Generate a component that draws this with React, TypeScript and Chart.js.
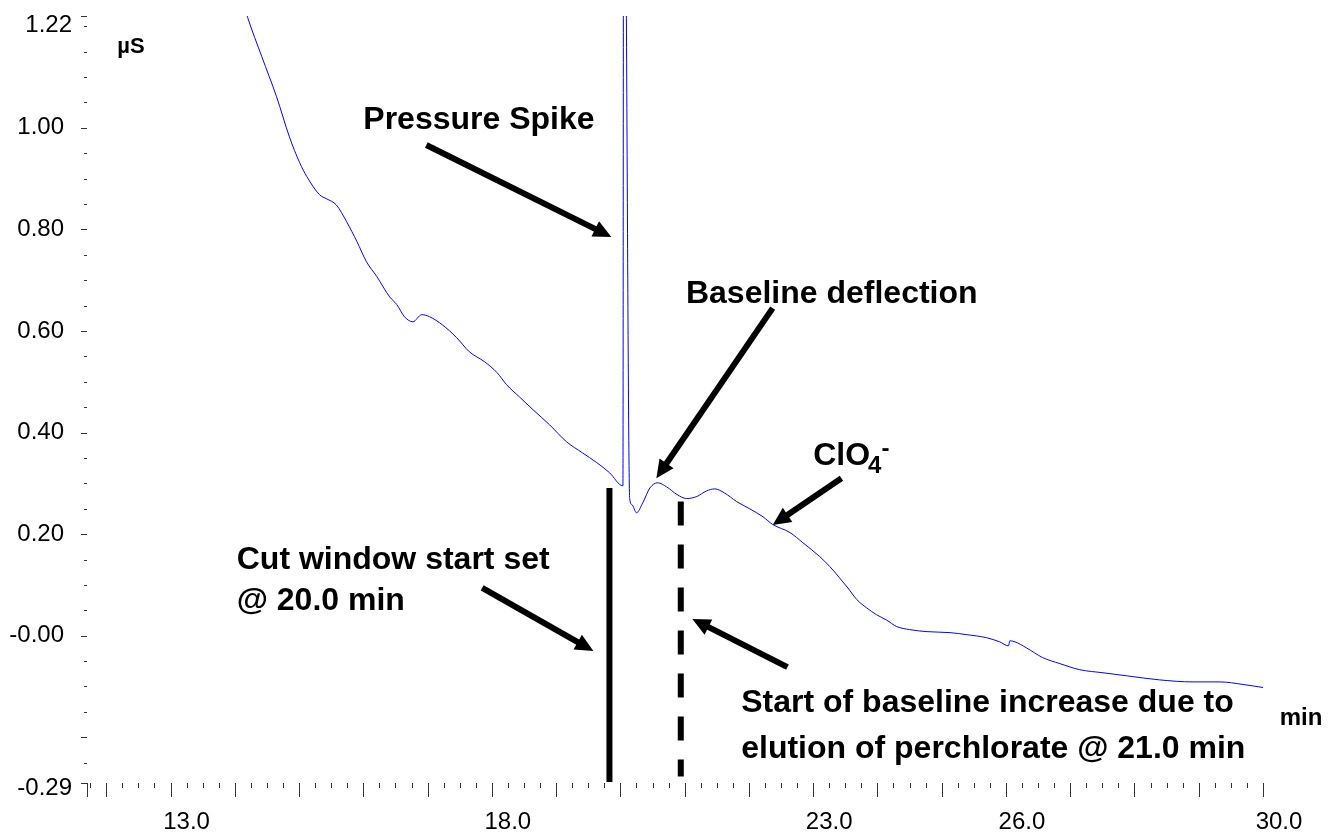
import React, { useEffect, useRef } from "react";
import { Chart, registerables } from "chart.js";

Chart.register(...registerables);

// ---- data (retention time in min, conductivity in µS) ----
const times = [
  14.10, 14.20, 14.42, 14.65, 14.85, 15.01, 15.12, 15.32, 15.43, 15.58,
  15.74, 15.90, 16.05, 16.21, 16.41, 16.52, 16.64, 16.77, 16.91, 17.03,
  17.23, 17.45, 17.65, 17.89, 18.08, 18.23, 18.43, 18.64, 18.90, 19.16,
  19.41, 19.63, 19.83, 20.04, 20.05, 20.065, 20.145, 20.18, 20.25, 20.35,
  20.46, 20.58, 20.72, 20.88, 21.03, 21.19, 21.34, 21.47, 21.62, 21.81,
  22.01, 22.22, 22.37, 22.64, 22.84, 23.10, 23.26, 23.41, 23.54, 23.68,
  23.83, 23.99, 24.14, 24.30, 24.50, 24.77, 25.13, 25.39, 25.70, 25.90,
  26.04, 26.06, 26.14, 26.32, 26.57, 26.84, 27.15, 27.51, 27.88, 28.39,
  28.91, 29.33, 29.69, 30.00,
];
const signal = [
  1.26, 1.217, 1.140, 1.061, 0.982, 0.931, 0.904, 0.868, 0.860, 0.848,
  0.815, 0.776, 0.736, 0.707, 0.667, 0.652, 0.628, 0.618, 0.632, 0.628,
  0.612, 0.587, 0.559, 0.539, 0.518, 0.494, 0.470, 0.445, 0.415, 0.382,
  0.360, 0.341, 0.321, 0.295, 1.60, 1.60, 0.270, 0.258, 0.242, 0.262,
  0.291, 0.301, 0.293, 0.278, 0.270, 0.274, 0.285, 0.289, 0.281, 0.264,
  0.250, 0.234, 0.219, 0.203, 0.183, 0.156, 0.136, 0.114, 0.094, 0.071,
  0.055, 0.041, 0.031, 0.018, 0.012, 0.008, 0.006, 0.002, -0.004, -0.012,
  -0.020, -0.010, -0.012, -0.024, -0.043, -0.055, -0.067, -0.073, -0.079, -0.087,
  -0.091, -0.091, -0.096, -0.102,
];

// ---- axes ----
const xMin = 11.7;
const xMax = 30.0;
const yMin = -0.29;
const yMax = 1.22;
const xTickValues = [13.0, 18.0, 23.0, 26.0, 30.0];
const xTickLabels = ["13.0", "18.0", "23.0", "26.0", "30.0"];
const yTickValues = [-0.29, 0.0, 0.2, 0.4, 0.6, 0.8, 1.0, 1.22];
const yTickLabels = ["-0.29", "-0.00", "0.20", "0.40", "0.60", "0.80", "1.00", "1.22"];
const xMajorStep = 1.0;
const xMinorStep = 0.25;
const yMajorExtra = [-0.2];
const yMinorStep = 0.05;

// ---- annotations (in data units) ----
const cutLine = { t: 19.83, top: 0.291 };
const elutionLine = { t: 20.94, top: 0.264, bottom: -0.277 };
const arrowFrom = [
  [16.98, 0.966],
  [22.37, 0.645],
  [23.44, 0.31],
  [17.85, 0.094],
  [22.6, -0.062],
];
const arrowTo = [
  [19.86, 0.785],
  [20.56, 0.31],
  [22.37, 0.218],
  [19.58, -0.03],
  [21.12, 0.033],
];
const noteTexts = [
  "Pressure Spike",
  "Baseline deflection",
  "Cut window start set",
  "@ 20.0 min",
  "Start of baseline increase due to",
  "elution of perchlorate @ 21.0 min",
];
const notePos = [
  [16.0, 0.998],
  [21.02, 0.655],
  [14.03, 0.131],
  [14.03, 0.051],
  [21.88, -0.15],
  [21.88, -0.241],
];
const ionPos = [23.0, 0.336];
const yUnitPos = [12.17, 1.147];
const xUnitPos = [30.26, -0.176];

const FONT = '"Liberation Sans", Arial, Helvetica, sans-serif';

function drawArrow(ctx: CanvasRenderingContext2D, x1: number, y1: number, x2: number, y2: number) {
  const ang = Math.atan2(y2 - y1, x2 - x1);
  const headLen = 18;
  const headHalf = 8.5;
  const bx = x2 - headLen * Math.cos(ang);
  const by = y2 - headLen * Math.sin(ang);
  ctx.lineWidth = 6;
  ctx.lineCap = "butt";
  ctx.beginPath();
  ctx.moveTo(x1, y1);
  ctx.lineTo(bx + 2 * Math.cos(ang), by + 2 * Math.sin(ang));
  ctx.stroke();
  ctx.beginPath();
  ctx.moveTo(x2, y2);
  ctx.lineTo(bx + headHalf * Math.sin(ang), by - headHalf * Math.cos(ang));
  ctx.lineTo(bx - headHalf * Math.sin(ang), by + headHalf * Math.cos(ang));
  ctx.closePath();
  ctx.fill();
}

const annotationPlugin = {
  id: "chromAnnotations",
  afterDraw(chart: any) {
    const { ctx, chartArea } = chart;
    const xs = chart.scales.x;
    const ys = chart.scales.y;
    const px = (t: number) => xs.getPixelForValue(t);
    const py = (v: number) => ys.getPixelForValue(v);
    ctx.save();

    // tick marks
    ctx.strokeStyle = "#333";
    ctx.lineWidth = 1;
    ctx.beginPath();
    const bottom = Math.round(chartArea.bottom);
    const left = Math.round(chartArea.left);
    const xMaj: number[] = [xMin];
    for (let t = Math.ceil(xMin); t <= xMax + 1e-9; t += xMajorStep) xMaj.push(t);
    const xMin4: number[] = [];
    for (let t = Math.ceil(xMin / xMinorStep) * xMinorStep; t <= xMax + 1e-9; t += xMinorStep) {
      if (Math.abs(t - Math.round(t)) > 1e-6) xMin4.push(t);
    }
    xMaj.forEach((t) => {
      const x = Math.round(px(t)) + 0.5;
      ctx.moveTo(x, bottom);
      ctx.lineTo(x, bottom + 14);
    });
    xMin4.forEach((t) => {
      const x = Math.round(px(t)) + 0.5;
      ctx.moveTo(x, bottom);
      ctx.lineTo(x, bottom + 5);
    });
    const yMaj = [...yTickValues, ...yMajorExtra];
    yMaj.forEach((v) => {
      const y = Math.round(py(v)) + 0.5;
      ctx.moveTo(left - 6, y);
      ctx.lineTo(left, y);
    });
    for (let v = Math.ceil(yMin / yMinorStep) * yMinorStep; v <= yMax + 1e-9; v += yMinorStep) {
      if (yMaj.some((m) => Math.abs(m - v) < 1e-6)) continue;
      const y = Math.round(py(v)) + 0.5;
      ctx.moveTo(left - 3, y);
      ctx.lineTo(left, y);
    }
    ctx.stroke();

    // end labels of the y axis (drawn slightly inside, like the original software)
    ctx.fillStyle = "#000";
    ctx.font = `24px ${FONT}`;
    ctx.textAlign = "right";
    ctx.textBaseline = "middle";
    ctx.fillText(yTickLabels[yTickLabels.length - 1], left - 15, py(yTickValues[yTickValues.length - 1]) + 9);
    ctx.fillText(yTickLabels[0], left - 15, py(yTickValues[0]) + 5);

    // vertical marker lines
    ctx.strokeStyle = "#000";
    ctx.lineWidth = 6;
    ctx.setLineDash([]);
    ctx.beginPath();
    ctx.moveTo(px(cutLine.t), py(cutLine.top));
    ctx.lineTo(px(cutLine.t), chartArea.bottom - 1);
    ctx.stroke();
    ctx.setLineDash([24, 19]);
    ctx.beginPath();
    ctx.moveTo(px(elutionLine.t), py(elutionLine.top));
    ctx.lineTo(px(elutionLine.t), py(elutionLine.bottom));
    ctx.stroke();
    ctx.setLineDash([]);

    // arrows
    ctx.fillStyle = "#000";
    arrowFrom.forEach((a, i) => {
      const b = arrowTo[i];
      drawArrow(ctx, px(a[0]), py(a[1]), px(b[0]), py(b[1]));
    });

    // texts
    ctx.textAlign = "left";
    ctx.textBaseline = "alphabetic";
    ctx.font = `bold 32px ${FONT}`;
    noteTexts.forEach((s, i) => {
      ctx.fillText(s, px(notePos[i][0]), py(notePos[i][1]));
    });

    // ClO4-
    const ix = px(ionPos[0]);
    const iy = py(ionPos[1]);
    ctx.font = `bold 32px ${FONT}`;
    ctx.fillText("ClO", ix, iy);
    const w = ctx.measureText("ClO").width;
    ctx.font = `bold 24px ${FONT}`;
    ctx.fillText("4", ix + w - 2, iy + 8);
    const w4 = ctx.measureText("4").width;
    ctx.fillText("-", ix + w - 2 + w4, iy - 9);

    // unit labels
    ctx.font = `bold 22px ${FONT}`;
    ctx.fillText("µS", px(yUnitPos[0]), py(yUnitPos[1]));
    ctx.font = `bold 24px ${FONT}`;
    ctx.fillText("min", px(xUnitPos[0]), py(xUnitPos[1]));

    ctx.restore();
  },
};

export default function App() {
  const canvasRef = useRef<HTMLCanvasElement | null>(null);

  useEffect(() => {
    if (!canvasRef.current) return;
    const chart = new Chart(canvasRef.current, {
      type: "line",
      data: {
        datasets: [
          {
            data: times.map((t, i) => ({ x: t, y: signal[i] })),
            borderColor: "#0000ff",
            borderWidth: 1,
            pointRadius: 0,
            fill: false,
            cubicInterpolationMode: "monotone",
          },
        ],
      },
      options: {
        animation: false,
        responsive: false,
        maintainAspectRatio: false,
        events: [],
        layout: { padding: { top: 16, right: 67, left: 0, bottom: 0 } },
        plugins: { legend: { display: false }, tooltip: { enabled: false } },
        scales: {
          x: {
            type: "linear",
            min: xMin,
            max: xMax,
            grid: { display: false },
            border: { display: false },
            afterFit: (s: any) => {
              s.height = 50;
              s.paddingLeft = 0;
              s.paddingRight = 0;
            },
            afterBuildTicks: (s: any) => {
              s.ticks = xTickValues.map((v) => ({ value: v }));
            },
            ticks: {
              autoSkip: false,
              maxRotation: 0,
              minRotation: 0,
              padding: 17,
              labelOffset: 16,
              color: "#000",
              font: { family: FONT, size: 24 },
              callback: (_v: any, i: number) => xTickLabels[i],
            },
          },
          y: {
            type: "linear",
            min: yMin,
            max: yMax,
            grid: { display: false },
            border: { display: false },
            afterFit: (s: any) => {
              s.width = 87;
              s.paddingTop = 0;
              s.paddingBottom = 0;
            },
            afterBuildTicks: (s: any) => {
              s.ticks = yTickValues.map((v) => ({ value: v }));
            },
            ticks: {
              autoSkip: false,
              padding: 15,
              color: "#000",
              font: { family: FONT, size: 24 },
              callback: (_v: any, i: number) =>
                i === 0 || i === yTickLabels.length - 1 ? "" : yTickLabels[i],
            },
          },
        },
      } as any,
      plugins: [annotationPlugin],
    });
    return () => chart.destroy();
  }, []);

  return (
    <div style={{ position: "fixed", left: 0, top: 0, width: 1330, height: 833, background: "#fff" }}>
      <canvas ref={canvasRef} width={1330} height={833} style={{ display: "block" }} />
    </div>
  );
}
